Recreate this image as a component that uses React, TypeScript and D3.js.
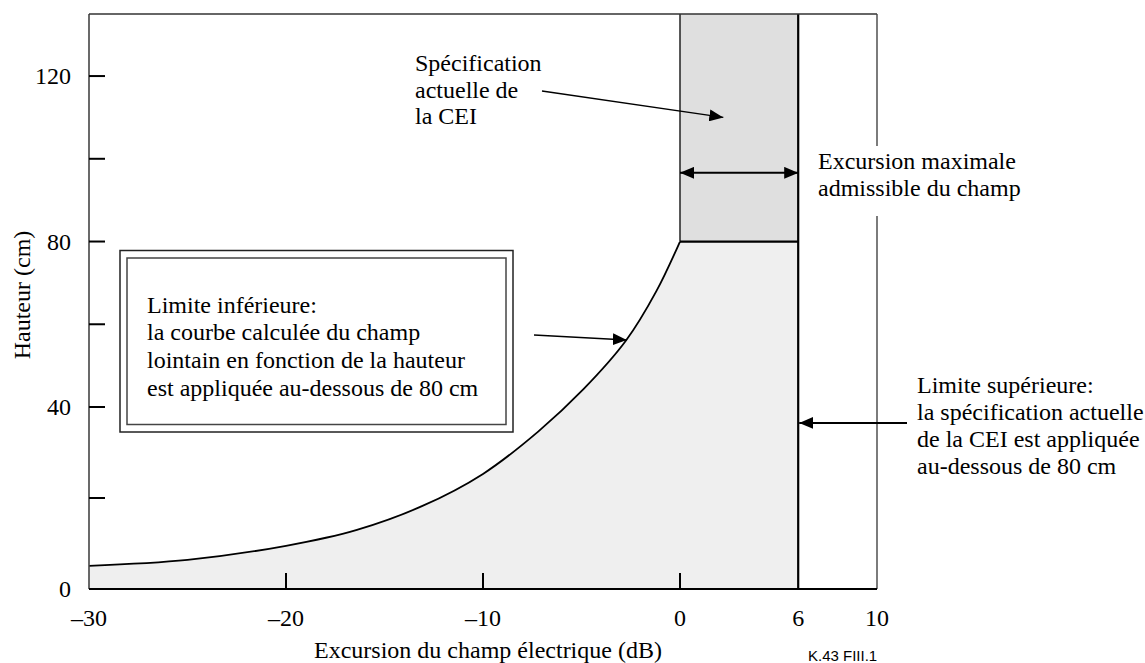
import { useRef, useEffect } from 'react';
import * as d3 from 'd3';

// excursion (dB) -> hauteur (cm)
const curveDb = [-30, -25, -20, -16.4, -13.1, -10, -7.2, -4.9, -2.75, -1.2, 0];
const curveCm = [5.1, 6.4, 9.5, 13, 18.2, 25.3, 34.6, 44.3, 56, 68, 80];

const xTickLabels = [-30, -20, -10, 0, 6, 10];
const xTickMarks = [-20, -10, 0];
const yTickMarks = [20, 40, 60, 80, 100, 120];
const yTickLabels = [0, 40, 80, 120];

const specHeightCm = 80;
const maxExcursionDb = 6;

const FONT = '"Liberation Serif", "Times New Roman", serif';

export default function App() {
  const svgRef = useRef<SVGSVGElement>(null);

  useEffect(() => {
    if (!svgRef.current) return;
    const width = 1145;
    const height = 663;
    const svg = d3.select(svgRef.current);
    svg.selectAll('*').remove();
    svg.attr('width', width).attr('height', height);

    const x = d3.scaleLinear().domain([-30, 10]).range([89, 877]);
    // the original drawing's vertical axis is slightly stretched below 40 cm
    const y = d3.scaleLinear().domain([0, 40, 135]).range([589, 407, 14]);

    const defs = svg.append('defs');
    defs.append('marker')
      .attr('id', 'head')
      .attr('viewBox', '0 0 14 12')
      .attr('refX', 14)
      .attr('refY', 6)
      .attr('markerWidth', 14)
      .attr('markerHeight', 12)
      .attr('markerUnits', 'userSpaceOnUse')
      .attr('orient', 'auto-start-reverse')
      .append('path')
      .attr('d', 'M0,0 L14,6 L0,12 Z')
      .attr('fill', '#000');

    const pts = curveDb.map((d, i) => [d, curveCm[i]] as [number, number]);
    const smooth = d3.curveCatmullRom.alpha(0.5);

    // light fill under spec up to 80 cm
    svg.append('rect')
      .attr('x', x(0))
      .attr('y', y(specHeightCm))
      .attr('width', x(maxExcursionDb) - x(0))
      .attr('height', y(0) - y(specHeightCm))
      .attr('fill', '#efefef');
    // light fill under the curve
    svg.append('path')
      .attr('d', d3.area<[number, number]>()
        .x(d => x(d[0])).y0(y(0)).y1(d => y(d[1]))
        .curve(smooth)(pts) as string)
      .attr('fill', '#efefef');

    // darker spec region above 80 cm
    svg.append('rect')
      .attr('x', x(0))
      .attr('y', y(135))
      .attr('width', x(maxExcursionDb) - x(0))
      .attr('height', y(specHeightCm) - y(135))
      .attr('fill', '#dfdfdf');

    // curve
    svg.append('path')
      .attr('d', d3.line<[number, number]>().x(d => x(d[0])).y(d => y(d[1])).curve(smooth)(pts) as string)
      .attr('fill', 'none')
      .attr('stroke', '#000')
      .attr('stroke-width', 1.8);

    // spec region edges
    svg.append('line')
      .attr('x1', x(0)).attr('x2', x(0))
      .attr('y1', y(135)).attr('y2', y(specHeightCm))
      .attr('stroke', '#222').attr('stroke-width', 1.5);
    svg.append('line')
      .attr('x1', x(0)).attr('x2', x(maxExcursionDb))
      .attr('y1', y(specHeightCm)).attr('y2', y(specHeightCm))
      .attr('stroke', '#000').attr('stroke-width', 2.2);
    svg.append('line')
      .attr('x1', x(maxExcursionDb)).attr('x2', x(maxExcursionDb))
      .attr('y1', y(135)).attr('y2', y(0))
      .attr('stroke', '#000').attr('stroke-width', 2.2);

    // frame
    const frame = svg.append('g').attr('fill', 'none');
    frame.append('line').attr('x1', x(-30)).attr('x2', x(-30)).attr('y1', y(135)).attr('y2', y(0))
      .attr('stroke', '#444').attr('stroke-width', 1.6);
    frame.append('line').attr('x1', x(-30)).attr('x2', x(10)).attr('y1', y(135)).attr('y2', y(135))
      .attr('stroke', '#333').attr('stroke-width', 1.6);
    frame.append('line').attr('x1', x(10)).attr('x2', x(10)).attr('y1', y(135)).attr('y2', y(0))
      .attr('stroke', '#444').attr('stroke-width', 1.4);
    frame.append('line').attr('x1', x(-30)).attr('x2', x(10)).attr('y1', y(0)).attr('y2', y(0))
      .attr('stroke', '#000').attr('stroke-width', 2.2);

    // ticks
    svg.append('g').selectAll('line')
      .data(yTickMarks)
      .join('line')
      .attr('x1', x(-30)).attr('x2', x(-30) + 16)
      .attr('y1', d => y(d)).attr('y2', d => y(d))
      .attr('stroke', '#000').attr('stroke-width', 2);
    svg.append('g').selectAll('line')
      .data(xTickMarks)
      .join('line')
      .attr('x1', d => x(d)).attr('x2', d => x(d))
      .attr('y1', y(0)).attr('y2', y(0) - 16)
      .attr('stroke', '#000').attr('stroke-width', 2);

    const txt = (sel: d3.Selection<any, any, any, any>) =>
      sel.attr('font-family', FONT).attr('font-size', 24).attr('fill', '#000');

    svg.append('g').selectAll('text')
      .data(yTickLabels)
      .join('text')
      .call(txt)
      .attr('x', 71)
      .attr('y', d => y(d) + 8)
      .attr('text-anchor', 'end')
      .text(d => String(d));

    svg.append('g').selectAll('text')
      .data(xTickLabels)
      .join('text')
      .call(txt)
      .attr('x', d => x(d))
      .attr('y', 626)
      .attr('text-anchor', 'middle')
      .text(d => (d < 0 ? '\u2013' + Math.abs(d) : String(d)));

    svg.append('text').call(txt)
      .attr('x', 488).attr('y', 658)
      .attr('text-anchor', 'middle')
      .text('Excursion du champ électrique (dB)');

    svg.append('text').call(txt)
      .attr('transform', 'translate(30,295) rotate(-90)')
      .attr('text-anchor', 'middle')
      .text('Hauteur (cm)');

    svg.append('text')
      .attr('x', 808).attr('y', 661)
      .attr('font-family', '"Liberation Sans", Arial, sans-serif')
      .attr('font-size', 15)
      .text('K.43  FIII.1');

    const multi = (x0: number, y0: number, lines: string[], step: number) => {
      const t = svg.append('text').call(txt);
      lines.forEach((l, i) => t.append('tspan').attr('x', x0).attr('y', y0 + i * step).text(l));
    };

    // annotation: current IEC spec
    multi(415, 71, ['Spécification', 'actuelle de', 'la CEI'], 26.7);
    svg.append('line')
      .attr('x1', 542).attr('y1', 91)
      .attr('x2', x(2.2)).attr('y2', y(110))
      .attr('stroke', '#000').attr('stroke-width', 1.3)
      .attr('marker-end', 'url(#head)');

    // annotation: max excursion
    svg.append('rect')
      .attr('x', 812).attr('y', 146).attr('width', 250).attr('height', 70)
      .attr('fill', '#fff');
    multi(818, 169, ['Excursion maximale', 'admissible du champ'], 26.5);
    svg.append('line')
      .attr('x1', x(0)).attr('x2', x(maxExcursionDb))
      .attr('y1', y(96.6)).attr('y2', y(96.6))
      .attr('stroke', '#000').attr('stroke-width', 2)
      .attr('marker-start', 'url(#head)')
      .attr('marker-end', 'url(#head)');

    // annotation: lower limit box
    svg.append('rect')
      .attr('x', 120).attr('y', 250.5).attr('width', 393).attr('height', 181.5)
      .attr('fill', '#fff').attr('stroke', '#222').attr('stroke-width', 1.5);
    svg.append('rect')
      .attr('x', 127).attr('y', 258).attr('width', 379).attr('height', 166.5)
      .attr('fill', 'none').attr('stroke', '#444').attr('stroke-width', 1.5);
    multi(147, 312.5, [
      'Limite inférieure:',
      'la courbe calculée du champ',
      'lointain en fonction de la hauteur',
      'est appliquée au-dessous de 80 cm',
    ], 27.7);
    svg.append('line')
      .attr('x1', 534).attr('y1', 335)
      .attr('x2', x(-2.7)).attr('y2', y(56.2))
      .attr('stroke', '#000').attr('stroke-width', 1.3)
      .attr('marker-end', 'url(#head)');

    // annotation: upper limit
    multi(917, 392.5, [
      'Limite supérieure:',
      'la spécification actuelle',
      'de la CEI est appliquée',
      'au-dessous de 80 cm',
    ], 27);
    svg.append('line')
      .attr('x1', 907).attr('y1', y(36.5))
      .attr('x2', x(maxExcursionDb) + 1).attr('y2', y(36.5))
      .attr('stroke', '#000').attr('stroke-width', 2)
      .attr('marker-end', 'url(#head)');
  }, []);

  return <svg ref={svgRef} style={{ position: 'absolute', left: 0, top: 0, background: '#fff' }} />;
}
